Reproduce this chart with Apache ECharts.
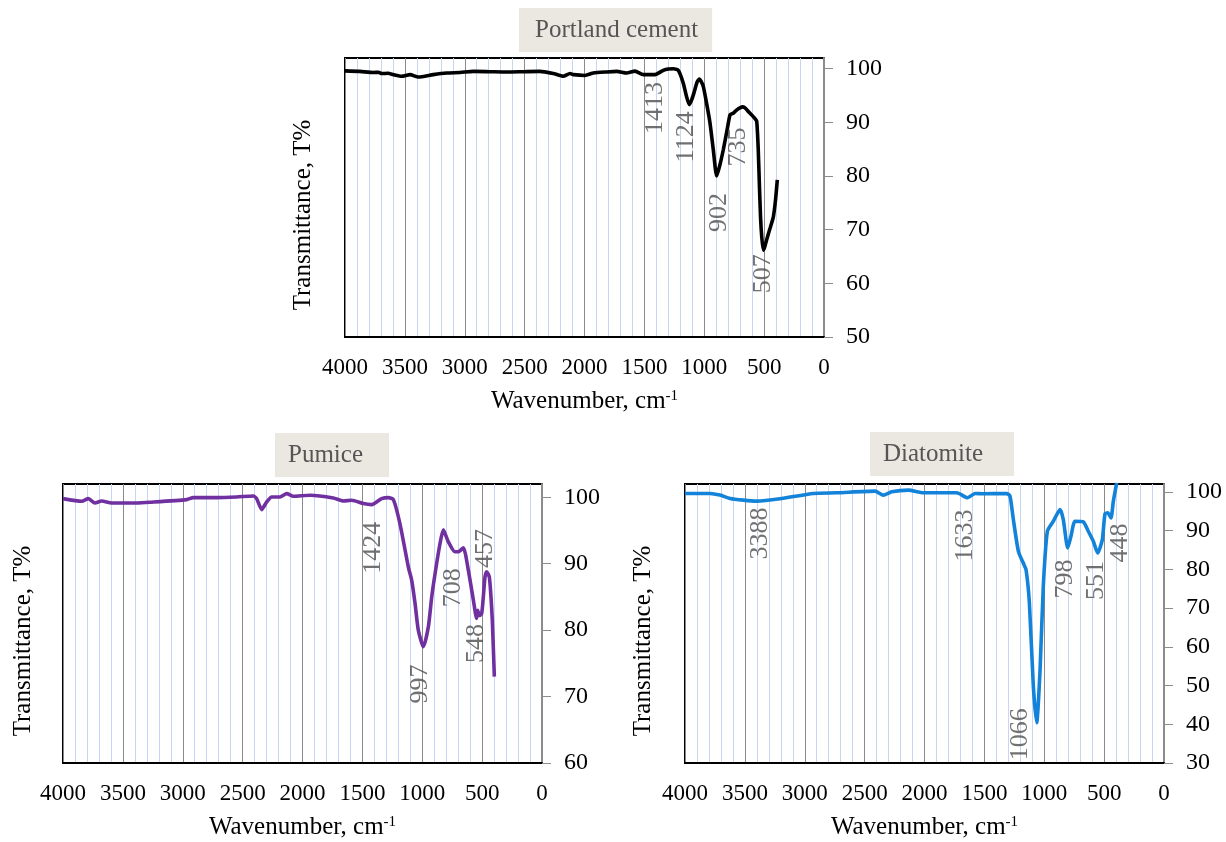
<!DOCTYPE html>
<html>
<head>
<meta charset="utf-8">
<script src="https://cdn.jsdelivr.net/npm/echarts/dist/echarts.min.js"></script>
<style>
html,body{margin:0;padding:0;background:#fff;}
#chart{width:1226px;height:842px;}
</style>
</head>
<body>
<div id="chart"></div>
<script>
// ---------- data ----------
const xTicks = [0, 500, 1000, 1500, 2000, 2500, 3000, 3500, 4000];

const cementWn = [4000,3875,3763,3720,3694,3640,3596,3527,3457,3388,3263,3151,3040,2928,2789,2650,2511,2372,2261,2177,2121,2093,1996,1926,1815,1731,1648,1578,1509,1411,1342,1300,1258,1217,1175,1150,1125,1105,1086,1060,1041,1025,1008,980,952,925,896,870,841,810,785,770,757,730,702,680,660,630,604,580,562,549,540,530,520,507,495,479,465,450,423,405,390];
const cementT  = [99.6,99.5,99.3,99.35,99.1,99.15,98.9,98.6,98.9,98.45,98.9,99.2,99.3,99.5,99.45,99.4,99.45,99.5,99.1,98.6,99.1,98.9,98.75,99.2,99.4,99.5,99.2,99.55,98.9,98.9,99.7,99.95,100.0,99.7,97.3,95.0,93.3,94.2,95.5,97.5,98.1,97.6,96.7,93.5,89.9,85.0,80.0,82.0,84.9,88.5,91.4,91.6,91.7,92.3,92.7,92.9,92.7,92.0,91.4,90.8,90.2,84.9,78.7,72.4,68.7,66.2,66.8,68.1,69.2,70.3,72.4,75.5,79.3];

const pumiceWn = [4000,3844,3788,3733,3677,3594,3385,3273,2967,2912,2717,2550,2411,2383,2341,2299,2257,2188,2132,2077,1937,1743,1659,1589,1492,1422,1339,1283,1241,1186,1116,1088,1060,1033,991,949,921,893,852,824,782,727,699,657,615,573,546,537,523,504,490,476,462,440,426,415,398];
const pumiceT  = [99.8,99.4,99.8,99.15,99.45,99.15,99.15,99.25,99.65,99.95,99.95,100.05,100.2,99.8,98.15,99.3,100.05,100.05,100.55,100.15,100.3,99.9,99.45,99.55,99.05,98.9,99.8,99.95,99.65,96.0,89.5,87.5,84.0,80.0,77.5,80.5,85.0,88.5,93.0,95.1,93.3,91.8,91.8,92.4,89.0,84.5,81.75,83.0,82.2,82.5,85.0,88.0,88.8,88.0,85.0,81.5,73.0];

const diatomiteWn = [4000,3791,3708,3624,3513,3401,3207,2928,2733,2413,2344,2274,2135,2010,1731,1640,1578,1509,1314,1286,1258,1216,1175,1152,1124,1091,1063,1035,1008,974,924,868,841,804,777,743,674,632,590,554,515,493,470,443,423,395];
const diatomiteT  = [99.56,99.56,99.13,98.27,97.83,97.58,98.18,99.56,99.73,100.16,99.13,99.99,100.42,99.73,99.73,98.44,99.56,99.47,99.56,98.87,92.83,84.63,81.6,79.89,71.26,49.7,40.4,54.0,75.57,89.8,92.4,95.42,92.83,85.5,88.5,92.4,92.23,89.8,87.2,84.2,87.65,94.3,94.56,93.26,97.58,102.3];

// peak annotations: text, wavenumber where the label sits, T level of the label centre
const cementPeakText = ['1413','1124','902','735','507'];
const cementPeakX    = [1411, 1147, 874, 713, 504];
const cementPeakY    = [92.7, 87.3, 73.2, 85.4, 61.8];

const pumicePeakText = ['1424','997','708','548','457'];
const pumicePeakX    = [1406, 1019, 743, 551, 473];
const pumicePeakY    = [92.4, 71.9, 86.4, 78.0, 92.3];

const diatomitePeakText = ['3388','1633','1066','798','551','448'];
const diatomitePeakX    = [3371, 1662, 1197, 829, 565, 365];
const diatomitePeakY    = [89.2, 88.7, 37.4, 77.5, 77.1, 86.8];

const cementYTicks    = [50,60,70,80,90,100];
const pumiceYTicks    = [60,70,80,90,100];
const diatomiteYTicks = [30,40,50,60,70,80,90,100];

const titles = ['Portland cement', 'Pumice', 'Diatomite'];
const yName = 'Transmittance, T%';

// ---------- helpers ----------
const FONT = '"Liberation Serif", "Times New Roman", serif';
function pairs(xs, ys) { return xs.map((x, i) => [x, ys[i]]); }
function peaks(t, xs, ys) { return t.map((s, i) => ({ name: s, value: [xs[i], ys[i]] })); }

function xAxis(gi) {
  return {
    type: 'value', gridIndex: gi, min: 0, max: 4000, interval: 500, inverse: true,
    name: 'Wavenumber, cm{sup|-1}', nameLocation: 'middle', nameGap: 52,
    nameTextStyle: { fontFamily: FONT, fontSize: 25, color: '#000',
      rich: { sup: { fontFamily: FONT, fontSize: 15, lineHeight: 15, verticalAlign: 'top', color: '#000' } } },
    axisLine: { show: true, lineStyle: { color: '#000', width: 2 } },
    axisTick: { show: false },
    axisLabel: { fontFamily: FONT, fontSize: 23, color: '#000', margin: 19, showMinLabel: true, showMaxLabel: true,
      customValues: xTicks, formatter: v => String(v) },
    splitLine: { show: true, lineStyle: { color: '#8a8a8a', width: 1 } },
    minorTick: { show: false, splitNumber: 5 },
    minorSplitLine: { show: true, lineStyle: { color: '#c6d6f3', width: 1 } }
  };
}
function yAxis(gi, min, ticks) {
  return {
    type: 'value', gridIndex: gi, position: 'right', min: min, max: 102, interval: 10,
    axisLine: { show: true, lineStyle: { color: '#8c8c8c', width: 2 } },
    axisTick: { show: true, length: 9, lineStyle: { color: '#8c8c8c', width: 1 }, customValues: ticks },
    axisLabel: { fontFamily: FONT, fontSize: 24, color: '#000', margin: 22, customValues: ticks,
      formatter: v => (v % 10 === 0 ? String(v) : '') },
    splitLine: { show: false }
  };
}
function lineSeries(gi, data, color) {
  return { type: 'line', xAxisIndex: gi, yAxisIndex: gi, data: data, showSymbol: false, symbol: 'none',
    smooth: 0.2, clip: true, lineStyle: { color: color, width: 3.6 }, z: 5, silent: true };
}
function labelSeries(gi, data) {
  return { type: 'scatter', xAxisIndex: gi, yAxisIndex: gi, data: data, symbolSize: 1,
    itemStyle: { color: 'rgba(0,0,0,0)' }, silent: true, z: 6,
    label: { show: true, position: 'inside', rotate: 90, formatter: p => p.name,
      fontFamily: FONT, fontSize: 26, color: '#4d4d4d' } };
}
function titleBox(text, left, top, pad) {
  return { text: text, left: left, top: top, padding: pad, backgroundColor: '#ebe8e1',
    textStyle: { fontFamily: FONT, fontSize: 25, lineHeight: 25, fontWeight: 'normal', color: '#555' } };
}
function yNameText(x, y) {
  return { type: 'text', x: x, y: y, rotation: Math.PI / 2, silent: true,
    style: { text: yName, font: '25px ' + FONT, fill: '#000', align: 'center', verticalAlign: 'middle',
      textAlign: 'center', textVerticalAlign: 'middle' } };
}

const chart = echarts.init(document.getElementById('chart'), null, { renderer: 'canvas' });
chart.setOption({
  animation: false,
  backgroundColor: '#fff',
  title: [
    titleBox(titles[0], 519, 8, [10, 14, 9, 16]),
    titleBox(titles[1], 275, 433, [10, 26, 9, 13]),
    titleBox(titles[2], 870, 432, [10, 31, 9, 13])
  ],
  grid: [
    { left: 345, top: 58, width: 479, height: 279, show: true, borderColor: '#000', borderWidth: 2, backgroundColor: 'transparent' },
    { left: 63, top: 484, width: 479, height: 279, show: true, borderColor: '#000', borderWidth: 2, backgroundColor: 'transparent' },
    { left: 685, top: 484, width: 479, height: 279, show: true, borderColor: '#000', borderWidth: 2, backgroundColor: 'transparent' }
  ],
  xAxis: [xAxis(0), xAxis(1), xAxis(2)],
  yAxis: [yAxis(0, 50, cementYTicks), yAxis(1, 60, pumiceYTicks), yAxis(2, 30, diatomiteYTicks)],
  graphic: [yNameText(303, 215), yNameText(23, 641), yNameText(643, 641)],
  series: [
    lineSeries(0, pairs(cementWn, cementT), '#000000'),
    lineSeries(1, pairs(pumiceWn, pumiceT), '#7030a0'),
    lineSeries(2, pairs(diatomiteWn, diatomiteT), '#1283d8'),
    labelSeries(0, peaks(cementPeakText, cementPeakX, cementPeakY)),
    labelSeries(1, peaks(pumicePeakText, pumicePeakX, pumicePeakY)),
    labelSeries(2, peaks(diatomitePeakText, diatomitePeakX, diatomitePeakY))
  ]
});
</script>
</body>
</html>
